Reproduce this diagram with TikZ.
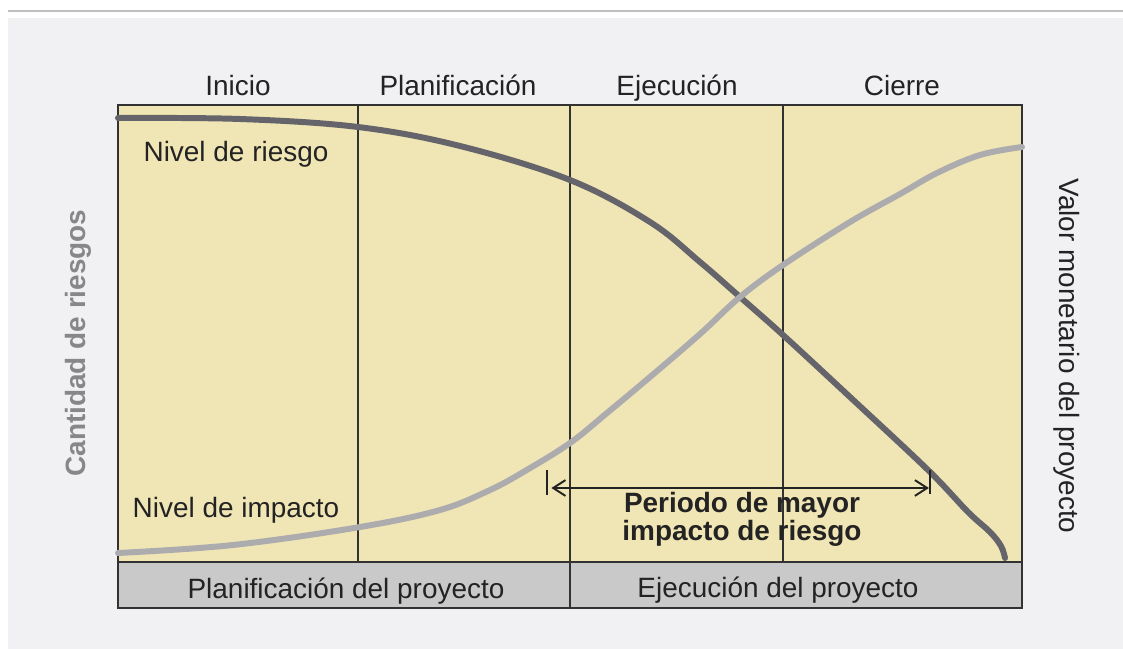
\documentclass[tikz,border=0pt]{standalone}
\usepackage{fontspec}
\setmainfont{Liberation Sans}
\usetikzlibrary{arrows.meta}
\definecolor{fondo}{RGB}{241,241,243}
\definecolor{amarillo}{RGB}{240,229,180}
\definecolor{barra}{RGB}{201,201,201}
\definecolor{marcocol}{RGB}{50,50,50}
\definecolor{riesgocol}{RGB}{100,100,106}
\definecolor{impactocol}{RGB}{172,172,175}
\definecolor{textocol}{RGB}{35,35,35}
\definecolor{ejecol}{RGB}{135,135,135}
\tikzset{
	marco/.style={draw=marcocol, line width=1.1pt},
	curva/.style={line width=3.4pt, line cap=round},
	etiqueta/.style={text=textocol, inner sep=0pt, anchor=base},
	periodo/.style={draw=textocol, line width=1.1pt}
}
\begin{document}
\begin{tikzpicture}[x=0.02cm, y=-0.02cm, font=\fontsize{15.9}{19}\selectfont]
			\useasboundingbox (0,0) rectangle (1123,649);
			\fill[white] (0,0) rectangle (1123,649);
			\fill[fondo] (8,18) rectangle (1123,649);
			\draw[gray!50, line width=0.8pt] (8,11) -- (1123,11);
			\fill[amarillo] (118,105) rectangle (1022,562);
			\fill[barra] (118,562) rectangle (1022,608);
			\foreach \x in {358,570,783}{
				\draw[marco] (\x,105) -- (\x,562);
			}
			\draw[marco] (570,562) -- (570,608);
			\draw[marco] (118,562) -- (1022,562);
			\draw[marco] (118,105) rectangle (1022,608);
			% curvas
			\draw[curva, riesgocol] plot[smooth, tension=0.6] coordinates {(118,118) (240,119) (358,127) (460,146) (570,180) (650,222) (700,262) (740,297) (783,335) (850,397) (928,470) (968,512) (990,532) (1001,546) (1005,558)};
			\draw[curva, impactocol] plot[smooth, tension=0.6] coordinates {(118,553) (233,545) (360,527) (440,510) (490,490) (525,471) (570,443) (607,413) (650,377) (700,334) (740,297) (783,265) (850,222) (900,194) (937,173) (980,155) (1022,147)};
			% fases
			\foreach \i\x\t in {1/238/Inicio,2/458/Planificación,3/677/Ejecución,4/902/Cierre}{
				\node[etiqueta] (fase\i) at (\x,95) {\t};
			}
			\node[etiqueta] (riesgo) at (236,161) {Nivel de riesgo};
			\node[etiqueta] (impacto) at (236,517) {Nivel de impacto};
			\node[etiqueta] (planproy) at (346,598) {Planificación del proyecto};
			\node[etiqueta] (ejeproy) at (778,597) {Ejecución del proyecto};
			\node[etiqueta, anchor=center, rotate=90, text=ejecol, font=\fontsize{15.9}{19}\selectfont\bfseries] (cantidad) at (78,343) {Cantidad de riesgos};
			\node[etiqueta, anchor=center, rotate=-90] (valor) at (1067,356) {Valor monetario del proyecto};
			% periodo de mayor impacto
			\coordinate (periodoA) at (547,488);
			\coordinate (periodoB) at (930,488);
			\draw[periodo] (periodoA) ++(0,-18) -- ++(0,25);
			\draw[periodo] (periodoB) ++(0,-18) -- ++(0,24);
			\draw[periodo, {Straight Barb[length=7pt, width=9pt]}-{Straight Barb[length=7pt, width=9pt]}, shorten <=2.5pt, shorten >=0.6pt] (periodoA) -- (periodoB);
			\node[etiqueta, align=center, font=\fontsize{15.9}{14.8}\selectfont\bfseries] (mayor) at (742,540) {Periodo de mayor\\impacto de riesgo};

		\end{tikzpicture}
\end{document}
